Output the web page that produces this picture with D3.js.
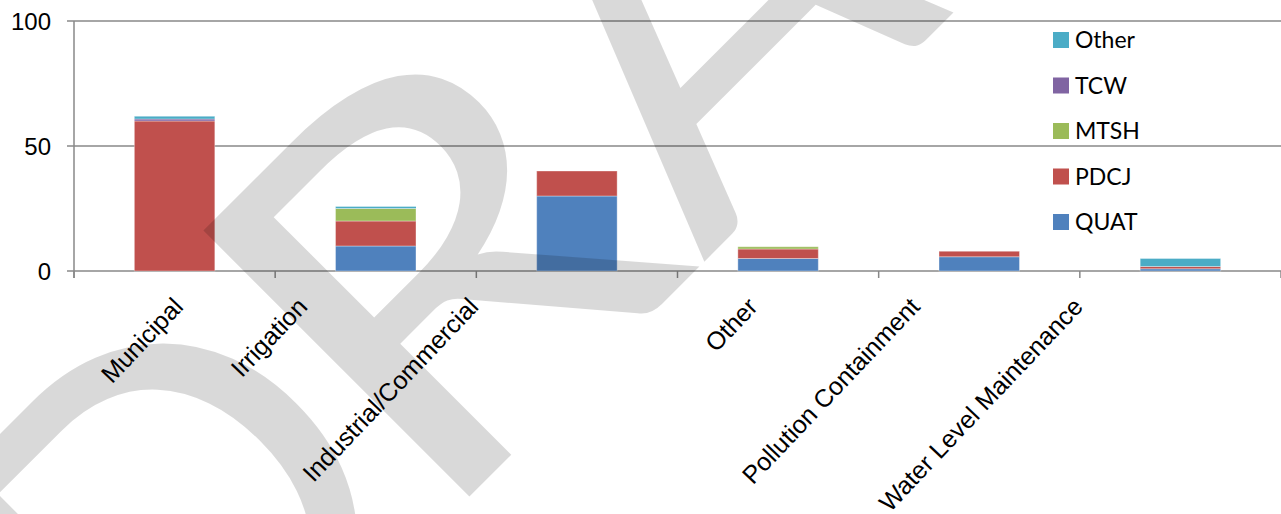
<!DOCTYPE html>
<html>
<head>
<meta charset="utf-8">
<script src="https://cdn.jsdelivr.net/npm/d3@7"></script>
<style>
  html, body { margin: 0; padding: 0; background: #fff; }
  svg { display: block; }
</style>
</head>
<body>
<div id="main"></div>
<script>
// categories and stacked series
const categories = ["Municipal", "Irrigation", "Industrial/Commercial", "Other", "Pollution Containment", "Water Level Maintenance"];
const seriesNames = ["QUAT", "PDCJ", "MTSH", "TCW", "Other"];
const quat  = [0,   10, 30, 5,   5.7, 0.9];
const pdcj  = [60,  10, 10, 3.8, 2.2, 0.9];
const mtsh  = [0,   5,  0,  0.9, 0,   0];
const tcw   = [0.8, 0,  0,  0,   0,   0];
const other = [1.1, 0.8, 0, 0,   0,   3.2];
const yTicks = [0, 50, 100];

const ctx = {
    w: 1281,
    h: 514,
    left: 74,
    right: 1281,
    top: 21,
    bottom: 271,
    colors: ["#4F81BD", "#C0504D", "#9BBB59", "#8064A2", "#4BACC6"],
    axisColor: "#888888",
    // nudges so the rotated labels land where the reference puts them
    labelShift: [10, -67, -97, -19, -58, -96],
    labelAngle: -46.5,
};

function createViz(){
    const svg = d3.select("#main").append("svg")
        .attr("width", ctx.w)
        .attr("height", ctx.h);

    const x = d3.scaleBand()
        .domain(categories)
        .range([ctx.left, ctx.right])
        .paddingInner(0.6)
        .paddingOuter(0.3);
    const step = x.step();

    const y = d3.scaleLinear().domain([0, 100]).range([ctx.bottom, ctx.top]);

    // gridlines (y ticks reach a little left of the axis)
    svg.append("g").selectAll("line")
        .data(yTicks)
        .enter().append("line")
        .attr("x1", ctx.left - 7).attr("x2", ctx.right)
        .attr("y1", d => y(d)).attr("y2", d => y(d))
        .attr("stroke", ctx.axisColor).attr("stroke-width", 1.5);

    svg.append("line")
        .attr("x1", ctx.left).attr("x2", ctx.left)
        .attr("y1", y(100)).attr("y2", ctx.bottom + 7)
        .attr("stroke", ctx.axisColor).attr("stroke-width", 1.5);

    // category boundary ticks
    svg.append("g").selectAll("line")
        .data(d3.range(categories.length + 1))
        .enter().append("line")
        .attr("x1", i => ctx.left + i * step).attr("x2", i => ctx.left + i * step)
        .attr("y1", ctx.bottom).attr("y2", ctx.bottom + 7)
        .attr("stroke", ctx.axisColor).attr("stroke-width", 1.5);

    svg.append("g").selectAll("text")
        .data(yTicks)
        .enter().append("text")
        .attr("x", 51).attr("y", d => y(d))
        .attr("dy", "0.36em")
        .attr("text-anchor", "end")
        .style("font-family", "'Liberation Sans', Arial, sans-serif")
        .style("font-size", "24px")
        .text(d => d);

    // stacked bars
    const rows = categories.map((c, i) => ({
        cat: c, QUAT: quat[i], PDCJ: pdcj[i], MTSH: mtsh[i], TCW: tcw[i], Other: other[i]
    }));
    const stacked = d3.stack().keys(seriesNames)(rows);

    const layers = svg.append("g").selectAll("g")
        .data(stacked)
        .enter().append("g")
        .attr("fill", (d, i) => ctx.colors[i]);
    layers.selectAll("rect")
        .data(d => d.filter(s => s[1] - s[0] > 0))
        .enter().append("rect")
        .attr("x", d => x(d.data.cat))
        .attr("width", x.bandwidth())
        .attr("y", d => y(d[1]))
        .attr("height", d => y(d[0]) - y(d[1]))
        .attr("stroke", "rgba(255,255,255,0.35)")
        .attr("stroke-width", 1);

    // rotated category labels
    svg.append("g").selectAll("text")
        .data(categories)
        .enter().append("text")
        .attr("transform", (d, i) => "translate(" + (x(d) + x.bandwidth() / 2 + ctx.labelShift[i]) + ",308) rotate(" + ctx.labelAngle + ")")
        .attr("text-anchor", "end")
        .style("font-family", "'Liberation Sans', Arial, sans-serif")
        .style("font-size", "25px")
        .text(d => d);

    // legend, last series on top
    const legendKeys = seriesNames.slice().reverse();
    const legend = svg.append("g").selectAll("g")
        .data(legendKeys)
        .enter().append("g")
        .attr("transform", (d, i) => "translate(1053," + (40 + i * 45.5) + ")");
    legend.append("rect")
        .attr("x", 0).attr("y", -8)
        .attr("width", 16).attr("height", 16)
        .attr("fill", d => ctx.colors[seriesNames.indexOf(d)]);
    legend.append("text")
        .attr("x", 22).attr("dy", "0.36em")
        .style("font-family", "Lato, 'Open Sans', sans-serif")
        .style("font-size", "23px")
        .text(d => d);

    // DRAFT watermark over everything; the R is drawn wider on its own
    const wm = svg.append("g").attr("transform", "translate(165,801) rotate(-45)");
    const mark = wm.append("text")
        .style("font-family", "Lato, sans-serif")
        .style("font-size", "525px")
        .attr("fill", "#000")
        .attr("fill-opacity", 0.15);
    const markLetters = ["D", "R", "A", "F", "T"];
    const markGap = [0, -17, 50, 0, 0];
    mark.selectAll("tspan")
        .data(markLetters)
        .enter().append("tspan")
        .attr("dx", (d, i) => markGap[i])
        .attr("fill-opacity", d => d === "R" ? 0 : null)
        .text(d => d);
    const rPos = mark.node().getStartPositionOfChar(1);
    wm.append("text")
        .attr("transform", "translate(" + (rPos.x - 8) + ",0) scale(1.17,1)")
        .style("font-family", "Lato, sans-serif")
        .style("font-size", "525px")
        .attr("fill", "#000")
        .attr("fill-opacity", 0.15)
        .text("R");
}

createViz();
</script>
</body>
</html>
